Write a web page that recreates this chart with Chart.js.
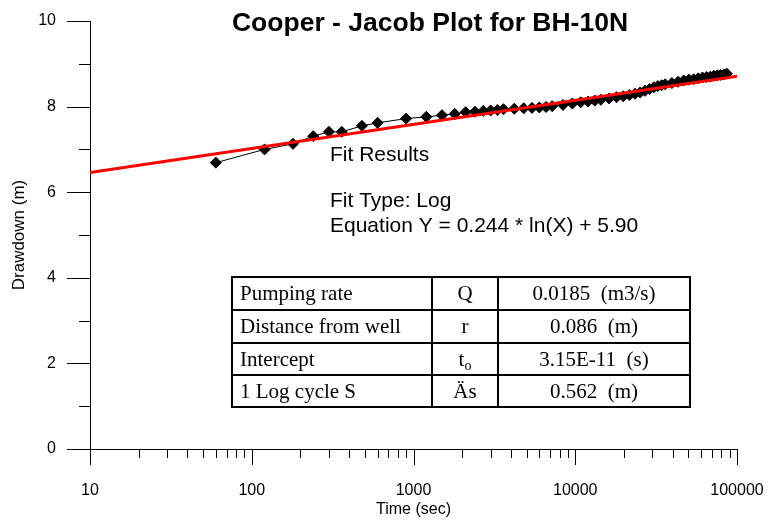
<!DOCTYPE html>
<html>
<head>
<meta charset="utf-8">
<script src="https://cdn.jsdelivr.net/npm/chart.js@4.4.1/dist/chart.umd.min.js"></script>
<style>
  html, body { margin: 0; padding: 0; background: #fff; }
</style>
</head>
<body>
<canvas id="cooperJacob" width="768" height="520"></canvas>
<script>
// pumping test record, BH-10N
const timeSec = [60, 120, 180, 240, 300, 360, 480, 600,
  900, 1200, 1500, 1800, 2100, 2400, 2700, 3000, 3300, 3600,
  4200, 4800, 5400, 6000, 6600, 7200,
  8400, 9600, 10800, 12000, 13200, 14400,
  16200, 18000, 19800, 21600, 23400, 25200, 27000, 28800, 30600, 32400, 34200, 36000,
  39600, 43200, 46800, 50400, 54000, 57600, 61200, 64800, 68400, 72000, 75600, 79200, 82800, 86400];
const drawdown = [6.69, 7.00, 7.13, 7.31, 7.41, 7.41, 7.55, 7.62,
  7.72, 7.76, 7.80, 7.83, 7.87, 7.88, 7.90, 7.91, 7.92, 7.94,
  7.95, 7.96, 7.97, 7.98, 7.99, 8.01,
  8.04, 8.07, 8.10, 8.12, 8.14, 8.16,
  8.19, 8.22, 8.24, 8.27, 8.30, 8.33, 8.37, 8.41, 8.45, 8.48, 8.50, 8.52,
  8.55, 8.58, 8.61, 8.63, 8.64, 8.66, 8.68, 8.69, 8.70, 8.72, 8.73, 8.74, 8.75, 8.77];

// log fit: Y = a * ln(X) + b
const fitSlope = 0.244;
const fitIntercept = 5.90;
const fitRange = [10, 100000];

const xTickValues = [10, 100, 1000, 10000, 100000];
const yTickValues = [0, 2, 4, 6, 8, 10];

const tableLabels = ['Pumping rate', 'Distance from well', 'Intercept', '1 Log cycle S'];
const tableSymbols = ['Q', 'r', 't', 'Äs'];
const tableSubscripts = ['', '', 'o', ''];
const tableValues = ['0.0185  (m3/s)', '0.086  (m)', '3.15E-11  (s)', '0.562  (m)'];

const SANS = '"Liberation Sans", Arial, sans-serif';
const SERIF = '"Liberation Serif", "Times New Roman", serif';

function fitValue(t) {
  return fitSlope * Math.log(t) + fitIntercept;
}

// keep the plot box fixed; the labels may spill into the margins
function fixBox(scale, size) {
  if (scale.isHorizontal()) scale.height = size;
  else scale.width = size;
  scale.paddingLeft = scale.paddingRight = 0;
  scale.paddingTop = scale.paddingBottom = 0;
}

// tick marks drawn outside the plot, long on majors and short on minors
const tickMarks = {
  id: 'tickMarks',
  afterDraw(chart) {
    const {ctx, scales: {x, y}, chartArea: area} = chart;
    ctx.save();
    ctx.strokeStyle = '#000';
    ctx.lineWidth = 1;
    ctx.beginPath();
    for (let v = 0; v <= 10; v++) {
      const py = Math.round(y.getPixelForValue(v)) + 0.5;
      const len = v % 2 === 0 ? 23 : 11;
      ctx.moveTo(area.left - len, py);
      ctx.lineTo(area.left, py);
    }
    for (let k = 1; k <= 5; k++) {
      for (let m = 1; m <= 9; m++) {
        const v = m * Math.pow(10, k);
        if (v > 100000) break;
        const px = Math.round(x.getPixelForValue(v)) + 0.5;
        const len = m === 1 ? 16 : 9;
        ctx.moveTo(px, area.bottom);
        ctx.lineTo(px, area.bottom + len);
      }
    }
    ctx.stroke();
    ctx.restore();
  }
};

// title, fit summary and parameter table
const notes = {
  id: 'notes',
  afterDraw(chart) {
    const ctx = chart.ctx;
    ctx.save();
    ctx.fillStyle = '#000';
    ctx.textBaseline = 'middle';

    ctx.font = 'bold 26.5px ' + SANS;
    ctx.textAlign = 'center';
    ctx.fillText('Cooper - Jacob Plot for BH-10N', 430, 24);

    ctx.font = '21px ' + SANS;
    ctx.textAlign = 'left';
    ctx.fillText('Fit Results', 330, 155);
    ctx.fillText('Fit Type: Log', 330, 201);
    ctx.fillText('Equation Y = ' + fitSlope.toFixed(3) + ' * ln(X) + ' + fitIntercept.toFixed(2), 330, 226);

    const colX = [232, 432, 498, 690];
    const rowY = [277, 310, 343, 375, 407];
    ctx.strokeStyle = '#000';
    ctx.lineWidth = 2;
    ctx.beginPath();
    rowY.forEach(yy => { ctx.moveTo(colX[0] - 1, yy); ctx.lineTo(colX[3] + 1, yy); });
    colX.forEach(xx => { ctx.moveTo(xx, rowY[0]); ctx.lineTo(xx, rowY[4]); });
    ctx.stroke();

    ctx.font = '21px ' + SERIF;
    tableLabels.forEach((label, i) => {
      const cy = (rowY[i] + rowY[i + 1]) / 2 + 1;
      ctx.textAlign = 'left';
      ctx.fillText(label, colX[0] + 8, cy);

      const sym = tableSymbols[i];
      const sub = tableSubscripts[i];
      const midSym = (colX[1] + colX[2]) / 2;
      if (sub) {
        ctx.font = '21px ' + SERIF;
        const w1 = ctx.measureText(sym).width;
        ctx.font = '14px ' + SERIF;
        const w2 = ctx.measureText(sub).width;
        const start = midSym - (w1 + w2) / 2;
        ctx.font = '21px ' + SERIF;
        ctx.fillText(sym, start, cy);
        ctx.font = '14px ' + SERIF;
        ctx.fillText(sub, start + w1, cy + 6);
        ctx.font = '21px ' + SERIF;
      } else {
        ctx.textAlign = 'center';
        ctx.fillText(sym, midSym, cy);
      }

      ctx.textAlign = 'center';
      ctx.fillText(tableValues[i], (colX[2] + colX[3]) / 2, cy);
    });
    ctx.restore();
  }
};

new Chart(
  document.getElementById('cooperJacob'),
  {
    type: 'scatter',
    data: {
      datasets: [
        {
          label: 'Fit',
          data: fitRange.map(t => ({x: t, y: fitValue(t)})),
          showLine: true,
          borderColor: '#ff0000',
          borderWidth: 3,
          pointRadius: 0,
          order: 1
        },
        {
          label: 'Drawdown',
          data: timeSec.map((t, i) => ({x: t, y: drawdown[i]})),
          showLine: true,
          borderColor: '#000',
          borderWidth: 1,
          pointStyle: 'rectRot',
          pointRadius: 5.5,
          pointBackgroundColor: '#000',
          pointBorderColor: '#000',
          pointBorderWidth: 1,
          order: 2
        }
      ]
    },
    options: {
      responsive: false,
      animation: false,
      devicePixelRatio: 1,
      layout: {
        padding: {left: 0, right: 31, top: 21, bottom: 0}
      },
      plugins: {
        legend: {display: false},
        tooltip: {enabled: false},
        title: {display: false}
      },
      scales: {
        x: {
          type: 'logarithmic',
          min: 10,
          max: 100000,
          afterBuildTicks: scale => { scale.ticks = xTickValues.map(v => ({value: v})); },
          afterFit: scale => fixBox(scale, 71),
          grid: {display: false, drawTicks: false},
          border: {display: true, color: '#000', width: 1},
          ticks: {
            padding: 32,
            color: '#000',
            font: {family: SANS, size: 16},
            maxRotation: 0,
            autoSkip: false,
            callback: v => String(v)
          },
          title: {
            display: true,
            text: 'Time (sec)',
            color: '#000',
            font: {family: SANS, size: 16},
            padding: {top: 0, bottom: 1}
          }
        },
        y: {
          min: 0,
          max: 10,
          afterBuildTicks: scale => { scale.ticks = yTickValues.map(v => ({value: v})); },
          afterFit: scale => fixBox(scale, 90),
          grid: {display: false, drawTicks: false},
          border: {display: true, color: '#000', width: 1},
          ticks: {
            padding: 34,
            color: '#000',
            font: {family: SANS, size: 16},
            callback: v => String(v)
          },
          title: {
            display: true,
            text: 'Drawdown (m)',
            color: '#000',
            font: {family: SANS, size: 17},
            padding: {top: 9, bottom: 0}
          }
        }
      }
    },
    plugins: [tickMarks, notes]
  }
);
</script>
</body>
</html>
